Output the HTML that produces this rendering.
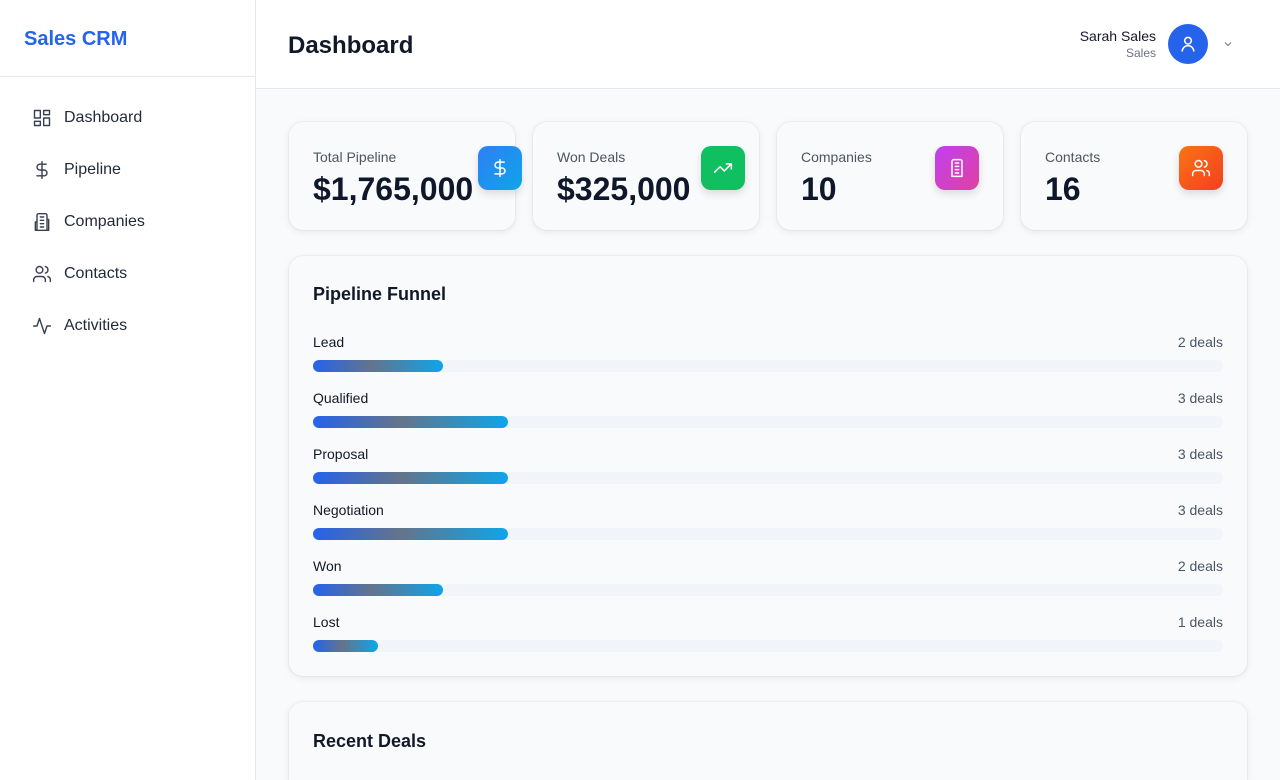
<!DOCTYPE html>
<html style="width:1280px;height:780px;overflow:hidden"><head><meta charset="utf-8"><style>
*{box-sizing:border-box;margin:0;padding:0}
body{width:1280px;height:780px;overflow:hidden;font-family:"Liberation Sans",sans-serif;background:#f8fafc;color:#0f172a;position:relative}
.side{position:absolute;left:0;top:0;width:256px;height:780px;background:#fff;border-right:1px solid #e5e7eb}
.logo{height:77px;border-bottom:1px solid #e5e7eb;padding:28px 24px;font-size:20px;font-weight:bold;color:#2563eb}
.nav{padding-top:15px}
.nav div{height:52px;display:flex;align-items:center;padding-left:32px;font-size:16px;color:#1f2937}
.nav svg{width:20px;height:20px;margin-right:12px;fill:none;stroke:#374151;stroke-width:1.7;stroke-linecap:round;stroke-linejoin:round}
.top{position:absolute;left:256px;top:0;right:0;height:89px;background:#fff;border-bottom:1px solid #e5e7eb}
.top h1{position:absolute;left:32px;top:32px;font-size:24px;font-weight:bold;color:#111827}
.user{position:absolute;right:124px;top:28px;text-align:right}
.user b{display:block;font-size:14px;font-weight:normal;color:#111827}
.user span{font-size:12px;color:#6b7280}
.av{position:absolute;left:912px;top:24px;width:40px;height:40px;border-radius:50%;background:#2563eb;display:flex;align-items:center;justify-content:center}
.card{position:absolute;background:#f9fafb;border-radius:14px;box-shadow:0 2px 8px rgba(0,0,0,.08),0 0 0 1px rgba(0,0,0,.03)}
.stat .l{position:absolute;left:24px;top:27px;font-size:14px;color:#4b5563}
.stat .v{position:absolute;left:24px;top:49px;font-size:32px;font-weight:bold;color:#0f172a}
.ic{position:absolute;right:-7px;top:24px;width:44px;height:44px;border-radius:10px;display:flex;align-items:center;justify-content:center;box-shadow:0 4px 8px rgba(0,0,0,.12)}
.ic svg{width:20px;height:20px;fill:none;stroke:#fff;stroke-width:1.8;stroke-linecap:round;stroke-linejoin:round}
h2{position:absolute;left:24px;top:28px;font-size:18px;font-weight:bold;color:#111827}
.row{position:absolute;left:24px;right:24px;height:40px;font-size:14px}
.row .n{position:absolute;left:0;top:0;color:#111827}
.row .d{position:absolute;right:0;top:0;color:#4b5563}
.track{position:absolute;left:0;right:0;top:26px;height:12px;border-radius:6px;background:#f1f5f9}
.bar{position:absolute;left:0;top:0;height:12px;border-radius:6px;background:linear-gradient(90deg,#2563eb,#64748b 45%,#0ea5e9)}
</style></head><body>
<div class="side">
<div class="logo">Sales CRM</div>
<div class="nav">
<div><svg viewBox="0 0 24 24"><rect x="3" y="3" width="7" height="9"/><rect x="14" y="3" width="7" height="5"/><rect x="14" y="12" width="7" height="9"/><rect x="3" y="16" width="7" height="5"/></svg>Dashboard</div>
<div><svg viewBox="0 0 24 24"><path d="M12 2v20M17 5H9.5a3.5 3.5 0 0 0 0 7h5a3.5 3.5 0 0 1 0 7H6"/></svg>Pipeline</div>
<div><svg viewBox="0 0 24 24"><path d="M6 22V4a2 2 0 0 1 2-2h8a2 2 0 0 1 2 2v18zM6 12H4v10h2M18 9h2v13h-2M10 6h4M10 10h4M10 14h4M10 18h4"/></svg>Companies</div>
<div><svg viewBox="0 0 24 24"><circle cx="9" cy="7" r="4"/><path d="M16 21v-2a4 4 0 0 0-4-4H6a4 4 0 0 0-4 4v2M16 3.1a4 4 0 0 1 0 7.8M22 21v-2a4 4 0 0 0-3-3.9"/></svg>Contacts</div>
<div><svg viewBox="0 0 24 24"><path d="M22 12h-4l-3 9L9 3l-3 9H2"/></svg>Activities</div>
</div></div>
<div class="top"><h1>Dashboard</h1>
<div class="user"><b>Sarah Sales</b><span>Sales</span></div>
<div class="av"><svg width="20" height="20" viewBox="0 0 24 24" fill="none" stroke="#fff" stroke-width="1.8"><circle cx="12" cy="8" r="4"/><path d="M5 21a7 7 0 0 1 14 0"/></svg></div>
<svg style="position:absolute;left:966px;top:38px" width="12" height="12" viewBox="0 0 24 24" fill="none" stroke="#6b7280" stroke-width="2"><path d="M6 9l6 6 6-6"/></svg>
</div>
<div class="card stat" style="left:289px;top:122px;width:226px;height:108px"><div class="l">Total Pipeline</div><div class="v">$1,765,000</div><div class="ic" style="background:linear-gradient(135deg,#2f7ff5,#0ea5e9)"><svg viewBox="0 0 24 24"><path d="M12 2v20M17 5H9.5a3.5 3.5 0 0 0 0 7h5a3.5 3.5 0 0 1 0 7H6"/></svg></div></div>
<div class="card stat" style="left:533px;top:122px;width:226px;height:108px"><div class="l">Won Deals</div><div class="v">$325,000</div><div class="ic" style="right:14px;background:#10c060"><svg viewBox="0 0 24 24"><path d="M22 7l-8.5 8.5-5-5L2 17M16 7h6v6"/></svg></div></div>
<div class="card stat" style="left:777px;top:122px;width:226px;height:108px"><div class="l">Companies</div><div class="v">10</div><div class="ic" style="right:24px;background:linear-gradient(135deg,#c040f0,#e040a0)"><svg viewBox="0 0 24 24"><path d="M6 22V4a2 2 0 0 1 2-2h8a2 2 0 0 1 2 2v18zM10 6h4M10 10h4M10 14h4M10 18h4"/></svg></div></div>
<div class="card stat" style="left:1021px;top:122px;width:226px;height:108px"><div class="l">Contacts</div><div class="v">16</div><div class="ic" style="right:24px;background:linear-gradient(135deg,#f97316,#f43f1e)"><svg viewBox="0 0 24 24"><circle cx="9" cy="7" r="4"/><path d="M16 21v-2a4 4 0 0 0-4-4H6a4 4 0 0 0-4 4v2M16 3.1a4 4 0 0 1 0 7.8M22 21v-2a4 4 0 0 0-3-3.9"/></svg></div></div>
<div class="card" style="left:289px;top:256px;width:958px;height:420px"><h2>Pipeline Funnel</h2>
<div class="row" style="top:78px"><span class="n">Lead</span><span class="d">2 deals</span><div class="track"><div class="bar" style="width:130px"></div></div></div>
<div class="row" style="top:134px"><span class="n">Qualified</span><span class="d">3 deals</span><div class="track"><div class="bar" style="width:195px"></div></div></div>
<div class="row" style="top:190px"><span class="n">Proposal</span><span class="d">3 deals</span><div class="track"><div class="bar" style="width:195px"></div></div></div>
<div class="row" style="top:246px"><span class="n">Negotiation</span><span class="d">3 deals</span><div class="track"><div class="bar" style="width:195px"></div></div></div>
<div class="row" style="top:302px"><span class="n">Won</span><span class="d">2 deals</span><div class="track"><div class="bar" style="width:130px"></div></div></div>
<div class="row" style="top:358px"><span class="n">Lost</span><span class="d">1 deals</span><div class="track"><div class="bar" style="width:65px"></div></div></div>
</div>
<div class="card" style="left:289px;top:702px;width:958px;height:78px;border-bottom-left-radius:0;border-bottom-right-radius:0"><h2 style="top:29px">Recent Deals</h2></div>
</body></html>
